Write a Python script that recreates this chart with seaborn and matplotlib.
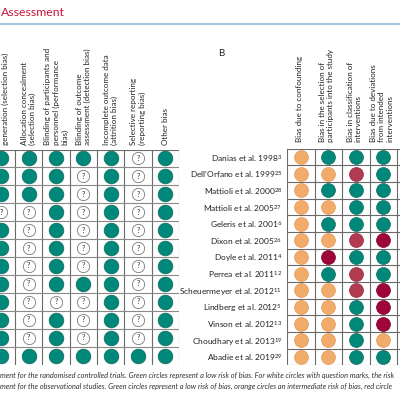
import numpy as np
import pandas as pd
import matplotlib
matplotlib.use("Agg")
import matplotlib.pyplot as plt
import matplotlib.transforms as mtransforms
from matplotlib.lines import Line2D
import seaborn as sns

# ---------------- data ----------------
rct_domains = [
    "Random sequence\ngeneration (selection bias)",
    "Allocation concealment\n(selection bias)",
    "Blinding of participants and\npersonnel (performance\nbias)",
    "Blinding of outcome\nassessment (detection bias)",
    "Incomplete outcome data\n(attrition bias)",
    "Selective reporting\n(reporting bias)",
    "Other bias",
]
# L = low risk (green), U = unclear (white with ?)
rct_ratings = [
    "LLLLLUL",
    "LLLULUL",
    "LLLULUL",
    "UULULUL",
    "LULULUL",
    "LULULUL",
    "LULULUL",
    "LULLLUL",
    "LUUULUL",
    "LULULUL",
    "LULULUL",
    "LLLLLLL",
]

obs_studies = [
    "Danias et al. 1998", "Dell'Orfano et al. 1999", "Mattioli et al. 2000",
    "Mattioli et al. 2005", "Geleris et al. 2001", "Dixon et al. 2005",
    "Doyle et al. 2011", "Perrea et al. 2011", "Scheuermeyer et al. 2012",
    "Lindberg et al. 2012", "Vinson et al. 2012", "Choudhary et al. 2013",
    "Abadie et al. 2019",
]
obs_refs = ["3", "25", "28", "27", "6", "26", "4", "12", "11", "5", "13", "19", "29"]
obs_domains = [
    "Bias due to confounding",
    "Bias in the selection of\nparticipants into the study",
    "Bias in classification of\ninterventions",
    "Bias due to deviations\nfrom intended\ninterventions",
]
# L = low, O = moderate (orange), S = serious (red), C = critical (dark red)
obs_ratings = [
    "OLLL",
    "OOSL",
    "OLLL",
    "OOLL",
    "OLLL",
    "OOSC",
    "OCLL",
    "OLSL",
    "OOSC",
    "OOLC",
    "OOLC",
    "OOLO",
    "OOLL",
]

title_text = "Assessment"
caption_lines = [
    "ment for the randomised controlled trials. Green circles represent a low risk of bias. For white circles with question marks, the risk",
    "ment for the observational studies. Green circles represent a low risk of bias, orange circles an intermediate risk of bias, red circle",
]

colors = {"L": "#00897b", "O": "#f1ab6b", "S": "#b43a52", "C": "#9e0539", "U": "white"}
edges = {"L": "#17665a", "O": "#e59a58", "S": "#8e2a3e", "C": "#7a0029", "U": "#7a7a7a"}

# ---------------- figure ----------------
sns.set_theme(style="white")
plt.rcParams["font.family"] = ["Lato", "DejaVu Sans"]
plt.rcParams["mathtext.fontset"] = "custom"
plt.rcParams["mathtext.rm"] = "Lato"
plt.rcParams["mathtext.it"] = "Lato:italic"
plt.rcParams["mathtext.bf"] = "Lato:bold"

W = H = 400
fig = plt.figure(figsize=(4, 4), dpi=100)


def px_axes(x0, y0, x1, y1):
    return fig.add_axes([x0 / W, 1 - y1 / H, (x1 - x0) / W, (y1 - y0) / H])


def long_df(ratings):
    rows = []
    for i, r in enumerate(ratings):
        for j, c in enumerate(r):
            rows.append({"row": i, "col": j, "rating": c})
    return pd.DataFrame(rows)


grid_col = "#6a6a6a"
head_fs = 5.8

# ---------- Panel A ----------
axA = px_axes(-12.3, 149.5, 179, 364.5)
dfA = long_df(rct_ratings)
nA_r, nA_c = len(rct_ratings), len(rct_domains)
for k in range(nA_c + 1):
    axA.axvline(k - 0.5, color=grid_col, lw=0.8, zorder=1)
for k in range(nA_r):
    axA.axhline(k - 0.5, color=grid_col if k == 0 else "#8a8a8a", lw=0.8, zorder=1)

low = dfA[dfA.rating == "L"]
unc = dfA[dfA.rating == "U"]
sns.scatterplot(data=low, x="col", y="row", ax=axA, s=112, color=colors["L"],
                edgecolor=edges["L"], linewidth=0.5, legend=False, zorder=3)
sns.scatterplot(data=unc, x="col", y="row", ax=axA, s=78, color=colors["U"],
                edgecolor=edges["U"], linewidth=0.6, legend=False, zorder=3)
for _, r in unc.iterrows():
    axA.text(r["col"], r["row"], "?", ha="center", va="center", fontsize=5.4,
             color="#333333", zorder=4)
axA.set_xlim(-0.5, nA_c - 0.5)
axA.set_ylim(nA_r - 0.5, -0.5)
axA.axis("off")
transA = mtransforms.blended_transform_factory(axA.transData, axA.transAxes)
for j, lab in enumerate(rct_domains):
    axA.text(j, 1 + 4.5 / 215, lab, transform=transA, rotation=90, ha="center",
             va="bottom", fontsize=head_fs, color="#222222", linespacing=1.2,
             multialignment="left")

# ---------- Panel B ----------
nB_r, nB_c = len(obs_studies), len(obs_domains)
cw = 27.5
axB = px_axes(287, 148.7, 287 + cw * (nB_c + 1), 365.3)
dfB = long_df(obs_ratings)
for k in range(nB_c + 2):
    axB.axvline(k - 0.5, color=grid_col, lw=0.8, zorder=1)
for k in range(nB_r + 1):
    axB.axhline(k - 0.5, color=grid_col, lw=0.8, zorder=1)
for key in ["O", "L", "S", "C"]:
    sub = dfB[dfB.rating == key]
    sns.scatterplot(data=sub, x="col", y="row", ax=axB, s=100, color=colors[key],
                    edgecolor=edges[key], linewidth=0.5, legend=False, zorder=3)
axB.set_xlim(-0.5, nB_c + 0.5)
axB.set_ylim(nB_r - 0.5, -0.5)
for sp in axB.spines.values():
    sp.set_visible(False)
axB.set_xticks([])
axB.set_xlabel("")
axB.set_ylabel("")
axB.set_yticks(range(nB_r))
axB.set_yticklabels([f"{s}$^{{\\mathrm{{{r}}}}}$" for s, r in zip(obs_studies, obs_refs)],
                    fontsize=6.0, color="#222222")
axB.tick_params(axis="y", length=0, pad=3.5)
transB = mtransforms.blended_transform_factory(axB.transData, axB.transAxes)
for j, lab in enumerate(obs_domains):
    axB.text(j - 0.05, 1 + 6.5 / 216.6, lab, transform=transB, rotation=90, ha="center",
             va="bottom", fontsize=head_fs, color="#222222", linespacing=1.2,
             multialignment="left")

# ---------- decorations ----------
fig.text(1 / W, 1 - 12 / H, title_text, color="#c8143c", fontsize=8.8,
         ha="left", va="center")
fig.add_artist(Line2D([0, 1], [1 - 24 / H] * 2, color="#a9c7de", lw=1.6,
                      transform=fig.transFigure))
fig.text(221 / W, 1 - 53 / H, "B", fontsize=7, ha="center", va="center",
         color="#222222")
for i, line in enumerate(caption_lines):
    fig.text(0, 1 - (375 + 11 * i) / H, line, style="italic", fontsize=5.35,
             color="#333333", ha="left", va="center")

fig.savefig("out.png", dpi=100)
